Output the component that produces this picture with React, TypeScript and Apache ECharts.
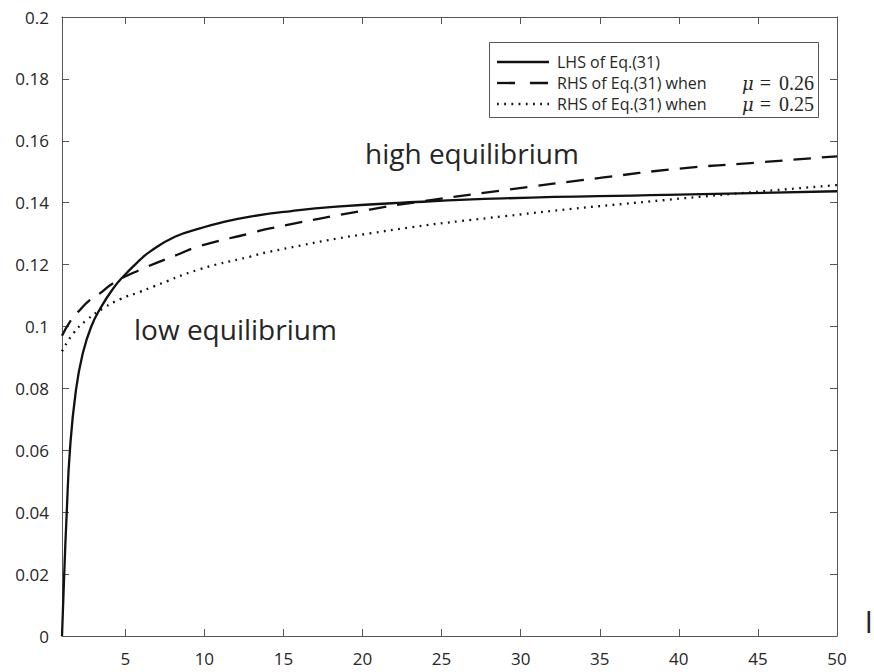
import React, { useEffect, useRef } from "react";
import * as echarts from "echarts";

// x = l, y = value
const solidL = [1, 1.14, 1.3, 1.5, 1.87, 2.3, 2.85, 3.5, 4.24, 4.77, 5.93, 6.56, 8.14, 9.72, 11, 12.9, 15.5, 18.36, 22.55, 28.9, 39.2, 50];
const solidY = [0, 0.02, 0.04, 0.06, 0.079, 0.091, 0.1, 0.1065, 0.1123, 0.1156, 0.1215, 0.1242, 0.129, 0.1317, 0.1335, 0.1355, 0.1373, 0.1387, 0.14, 0.1414, 0.1425, 0.1437];

const dashL = [1, 1.5, 2.03, 2.77, 3.4, 4.24, 5.93, 8.25, 9.72, 12.9, 14.15, 20.47, 23.6, 28.9, 35, 40, 45, 50];
const dashY = [0.097, 0.1015, 0.1048, 0.1086, 0.1107, 0.114, 0.1183, 0.1231, 0.126, 0.1301, 0.1317, 0.1378, 0.1403, 0.144, 0.148, 0.151, 0.153, 0.155];

const dotL = [1, 1.72, 2.56, 3.61, 4.67, 5.93, 6.77, 9.72, 12.9, 14.15, 20.47, 28.9, 39.2, 50];
const dotY = [0.092, 0.0978, 0.1021, 0.1059, 0.1088, 0.1112, 0.1129, 0.1185, 0.1226, 0.1242, 0.1301, 0.1356, 0.1409, 0.1457];

const xTicks = [5, 10, 15, 20, 25, 30, 35, 40, 45, 50];
const legendNames = ["LHS of Eq.(31)", "RHS of Eq.(31) when", "RHS of Eq.(31) when"];
const legendMu = ["", "0.26", "0.25"];

const pairs = (xs: number[], ys: number[]) => xs.map((x, i) => [x, ys[i]]);

export default function App() {
  const ref = useRef<HTMLDivElement>(null);
  useEffect(() => {
    document.body.style.margin = "0";
    if (!ref.current) return;
    const chart = echarts.init(ref.current, null, { renderer: "svg" });
    const axisColor = "#555555";
    const labelColor = "#262626";
    const font = "'Open Sans', sans-serif";
    const lw = 2.3;
    const dash = [17.5, 11];
    const dot = [1.8, 5.4];
    const lineStyles: any[] = [
      { lineWidth: lw, stroke: "#111" },
      { lineWidth: lw, stroke: "#111", lineDash: [18, 15] },
      { lineWidth: lw, stroke: "#111", lineDash: dot },
    ];
    const legendRows = [62, 83, 104];
    const legendGraphics: any[] = [
      {
        type: "rect",
        shape: { x: 489.5, y: 42.5, width: 329, height: 75 },
        style: { fill: "#fff", stroke: "#555", lineWidth: 1 },
        z: 100,
      },
    ];
    legendRows.forEach((y, i) => {
      legendGraphics.push({
        type: "line",
        shape: { x1: 497, y1: y, x2: 549, y2: y },
        style: lineStyles[i],
        z: 101,
      });
      legendGraphics.push({
        type: "text",
        x: 557,
        y: y,
        style: {
          text: legendNames[i],
          font: `16px ${font}`,
          fill: labelColor,
          verticalAlign: "middle",
        },
        z: 101,
      });
      if (legendMu[i]) {
        legendGraphics.push({
          type: "text",
          x: 742,
          y: y,
          style: {
            text: "{m|μ}{e|=}{n|" + legendMu[i] + "}",
            verticalAlign: "middle",
            rich: {
              m: { fontFamily: "'DejaVu Serif', serif", fontStyle: "italic", fontSize: 18, lineHeight: 18, fill: labelColor },
              e: { fontFamily: "'Liberation Serif', serif", fontSize: 20, lineHeight: 18, fill: labelColor, padding: [0, 8, 0, 6] },
              n: { fontFamily: "'Liberation Serif', serif", fontSize: 20, lineHeight: 18, fill: labelColor },
            },
          },
          z: 101,
        });
      }
    });

    const option: any = {
      animation: false,
      grid: { left: 62, right: 37, top: 17, bottom: 36, outerBoundsMode: "none" },
      xAxis: [
        {
          type: "value",
          min: 1,
          max: 50,
          name: "l",
          nameLocation: "end",
          nameGap: 28,
          nameTextStyle: { fontSize: 30, lineHeight: 30, color: labelColor, fontFamily: font, verticalAlign: "bottom" },
          axisLine: { show: true, onZero: false, lineStyle: { color: axisColor, width: 1 } },
          axisTick: { show: true, inside: true, length: 7, customValues: xTicks, lineStyle: { color: axisColor } },
          axisLabel: { customValues: xTicks, color: labelColor, fontSize: 17, fontFamily: font, margin: 14 },
          splitLine: { show: false },
        },
        {
          type: "value",
          position: "top",
          min: 1,
          max: 50,
          axisLine: { show: true, onZero: false, lineStyle: { color: axisColor, width: 1 } },
          axisTick: { show: true, inside: true, length: 7, customValues: xTicks, lineStyle: { color: axisColor } },
          axisLabel: { show: false },
          splitLine: { show: false },
        },
      ],
      yAxis: [
        {
          type: "value",
          min: 0,
          max: 0.2,
          interval: 0.02,
          axisLine: { show: true, onZero: false, lineStyle: { color: axisColor, width: 1 } },
          axisTick: { show: true, inside: true, length: 7, lineStyle: { color: axisColor } },
          axisLabel: { color: labelColor, fontSize: 17, fontFamily: font, margin: 13, formatter: (v: number) => String(+v.toFixed(2)) },
          splitLine: { show: false },
        },
        {
          type: "value",
          position: "right",
          min: 0,
          max: 0.2,
          interval: 0.02,
          axisLine: { show: true, onZero: false, lineStyle: { color: axisColor, width: 1 } },
          axisTick: { show: true, inside: true, length: 7, lineStyle: { color: axisColor } },
          axisLabel: { show: false },
          splitLine: { show: false },
        },
      ],
      series: [
        {
          name: legendNames[0],
          type: "line",
          data: pairs(solidL, solidY),
          showSymbol: false,
          smooth: 0.5,
          lineStyle: { color: "#111", width: lw },
          z: 3,
        },
        {
          name: legendNames[1] + " 0.26",
          type: "line",
          data: pairs(dashL, dashY),
          showSymbol: false,
          smooth: 0.5,
          lineStyle: { color: "#111", width: lw, type: dash, cap: "butt" },
          z: 2,
        },
        {
          name: legendNames[2] + " 0.25",
          type: "line",
          data: pairs(dotL, dotY),
          showSymbol: false,
          smooth: 0.5,
          lineStyle: { color: "#111", width: lw, type: dot, cap: "butt" },
          z: 2,
        },
      ],
      graphic: [
        {
          type: "text",
          x: 365,
          y: 153,
          style: { text: "high equilibrium", font: `28px ${font}`, fill: labelColor, verticalAlign: "middle" },
        },
        {
          type: "text",
          x: 134,
          y: 329,
          style: { text: "low equilibrium", font: `28px ${font}`, fill: labelColor, verticalAlign: "middle" },
        },
        ...legendGraphics,
      ],
    };
    chart.setOption(option);
    return () => chart.dispose();
  }, []);
  return <div ref={ref} style={{ width: 874, height: 672 }} />;
}
